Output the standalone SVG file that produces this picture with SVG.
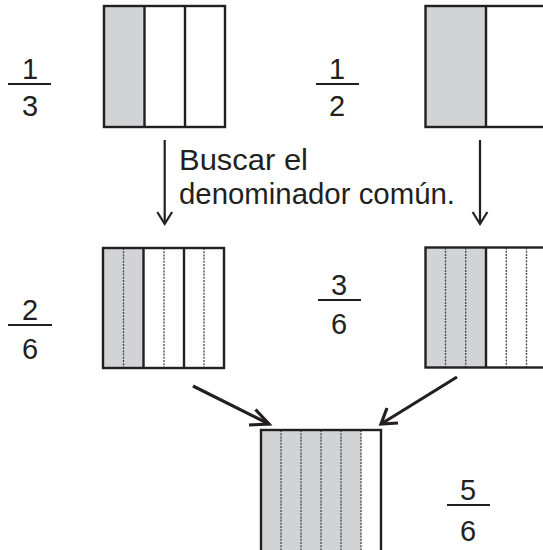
<svg xmlns="http://www.w3.org/2000/svg" width="543" height="550" viewBox="0 0 543 550">
<style>
.box{fill:none;stroke:#231f20;stroke-width:2.4}
.shade{fill:#d1d3d4}
.div{stroke:#231f20;stroke-width:2.4}
.dot{stroke:#444;stroke-width:1.3;stroke-dasharray:2 1.2}
.num{font-family:"Liberation Sans",Arial,sans-serif;font-size:29px;fill:#231f20;text-anchor:middle}
.bar{stroke:#231f20;stroke-width:2.2}
.lbl{font-family:"Liberation Sans",Arial,sans-serif;font-size:30px;fill:#231f20}
.arr{stroke:#231f20;stroke-width:2.2;fill:none}
.arrd{stroke:#231f20;stroke-width:3.2;fill:none}
</style>
<rect width="543" height="550" fill="#fff"/>
<g id="box-1-3">
<rect class="shade" x="104" y="6" width="40.5" height="121"/>
<line class="div" x1="144.5" y1="6" x2="144.5" y2="127"/>
<line class="div" x1="185" y1="6" x2="185" y2="127"/>
<rect class="box" x="104" y="6" width="121" height="121"/>
</g>
<g id="frac-1-3">
<text class="num" x="30" y="79">1</text>
<line class="bar" x1="8" y1="84" x2="51" y2="84"/>
<text class="num" x="30" y="115.5">3</text>
</g>
<g id="box-1-2">
<rect class="shade" x="425.5" y="6" width="60.5" height="121"/>
<line class="div" x1="486" y1="6" x2="486" y2="127"/>
<rect class="box" x="425.5" y="6" width="122" height="121"/>
</g>
<g id="frac-1-2">
<text class="num" x="337" y="78.5">1</text>
<line class="bar" x1="316" y1="84" x2="359" y2="84"/>
<text class="num" x="337" y="115.5">2</text>
</g>
<g id="label">
<text class="lbl" x="179" y="169.5" textLength="129" lengthAdjust="spacingAndGlyphs">Buscar el</text>
<text class="lbl" x="179" y="203.5" textLength="276" lengthAdjust="spacingAndGlyphs">denominador común.</text>
</g>
<g id="box-2-6">
<rect class="shade" x="103" y="248" width="40.5" height="120"/>
<line class="dot" x1="123.5" y1="248" x2="123.5" y2="368"/>
<line class="dot" x1="164" y1="248" x2="164" y2="368"/>
<line class="dot" x1="204" y1="248" x2="204" y2="368"/>
<line class="div" x1="143.5" y1="248" x2="143.5" y2="368"/>
<line class="div" x1="184" y1="248" x2="184" y2="368"/>
<rect class="box" x="103" y="248" width="121" height="120"/>
</g>
<g id="frac-2-6">
<text class="num" x="30" y="320">2</text>
<line class="bar" x1="8" y1="325" x2="52" y2="325"/>
<text class="num" x="30" y="358.5">6</text>
</g>
<g id="box-3-6">
<rect class="shade" x="425.5" y="247.5" width="60.5" height="120"/>
<line class="dot" x1="445.5" y1="247.5" x2="445.5" y2="367.5"/>
<line class="dot" x1="465.7" y1="247.5" x2="465.7" y2="367.5"/>
<line class="dot" x1="506.3" y1="247.5" x2="506.3" y2="367.5"/>
<line class="dot" x1="526.5" y1="247.5" x2="526.5" y2="367.5"/>
<line class="div" x1="486" y1="247.5" x2="486" y2="367.5"/>
<rect class="box" x="425.5" y="247.5" width="122" height="120"/>
</g>
<g id="frac-3-6">
<text class="num" x="339" y="295">3</text>
<line class="bar" x1="318" y1="300" x2="361" y2="300"/>
<text class="num" x="339" y="333.5">6</text>
</g>
<g id="box-5-6">
<rect class="shade" x="261" y="430" width="100" height="125"/>
<line class="dot" x1="281" y1="430" x2="281" y2="555"/>
<line class="dot" x1="301" y1="430" x2="301" y2="555"/>
<line class="dot" x1="321" y1="430" x2="321" y2="555"/>
<line class="dot" x1="341" y1="430" x2="341" y2="555"/>
<line class="dot" x1="361" y1="430" x2="361" y2="555"/>
<rect class="box" x="261" y="430" width="120" height="125"/>
</g>
<g id="frac-5-6">
<text class="num" x="468" y="500">5</text>
<line class="bar" x1="447" y1="505" x2="490" y2="505"/>
<text class="num" x="468" y="541">6</text>
</g>
<g id="connectors">
<line class="arr" x1="164.7" y1="140" x2="164.7" y2="224"/>
<polyline class="arr" points="157.3,212 164.7,224 172.1,212"/>
<line class="arr" x1="480" y1="140" x2="480" y2="224"/>
<polyline class="arr" points="472.6,212 480,224 487.4,212"/>
<line class="arrd" x1="193" y1="386" x2="269" y2="424"/>
<polyline class="arrd" points="255.5,409.5 269,424 249,425"/>
<line class="arrd" x1="457" y1="377" x2="381" y2="424"/>
<polyline class="arrd" points="387,408 381,424 398,423"/>
</g>
</svg>
